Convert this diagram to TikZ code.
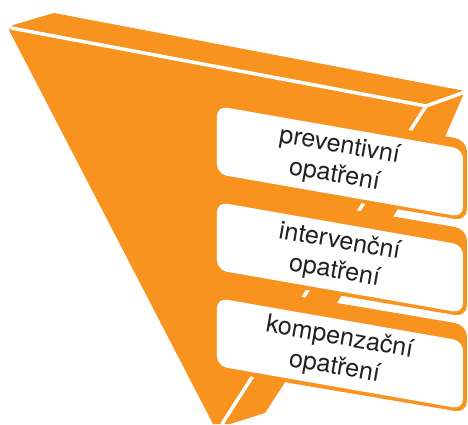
\documentclass[tikz,border=0pt]{standalone}
\usepackage{fontspec}
\setmainfont{TeX Gyre Heros}
\definecolor{funnelorange}{HTML}{F7931E}
\definecolor{labelgray}{HTML}{231F20}

\begin{document}
\begin{tikzpicture}[
  x=0.02cm,y=-0.02cm,
  funnel/.style={fill=funnelorange},
  edge_line/.style={draw=white,line width=0.07cm},
  tab_slab/.style={fill=funnelorange,rounded corners=0.24cm},
  tab_face/.style={fill=white,rounded corners=0.2cm},
  tab_label/.style={align=center,text=labelgray,rotate=-9.9,inner sep=0pt,
    font=\fontsize{14.3}{17}\selectfont}
  ]
  \useasboundingbox (0,0) rectangle (468,424);

  \coordinate (TopL) at (11,28);
  \coordinate (TopC) at (426,106);
  \coordinate (TopR) at (465,92);
  \coordinate (Tip) at (222,424);

  \fill[funnel] (13,25) -- (54,13) -- (465,91) -- (445,137) -- (265,413)
    -- (230,424) -- (213,424) -- (9,30) -- cycle;
  \draw[edge_line] (TopL) -- (TopC) -- (TopR);
  \draw[edge_line] (TopC) -- (Tip);

  \fill[tab_slab] (213,97) -- (467,140) -- (467,221) -- (213,178) -- cycle;
  \fill[tab_face] (217,106) -- (463,149) -- (463,217) -- (217,174) -- cycle;
  \node[tab_label] (prev) at (337,161) {preventivní\\opatření};

  \fill[tab_slab] (213,186) -- (467,229) -- (467,317) -- (213,274) -- cycle;
  \fill[tab_face] (217,202) -- (463,245) -- (463,313) -- (217,270) -- cycle;
  \node[tab_label] (interv) at (337,257) {intervenční\\opatření};

  \fill[tab_slab] (213,282) -- (467,325) -- (467,413) -- (213,370) -- cycle;
  \fill[tab_face] (217,298) -- (463,341) -- (463,409) -- (217,366) -- cycle;
  \node[tab_label] (komp) at (337,353) {kompenzační\\opatření};
\end{tikzpicture}
\end{document}
